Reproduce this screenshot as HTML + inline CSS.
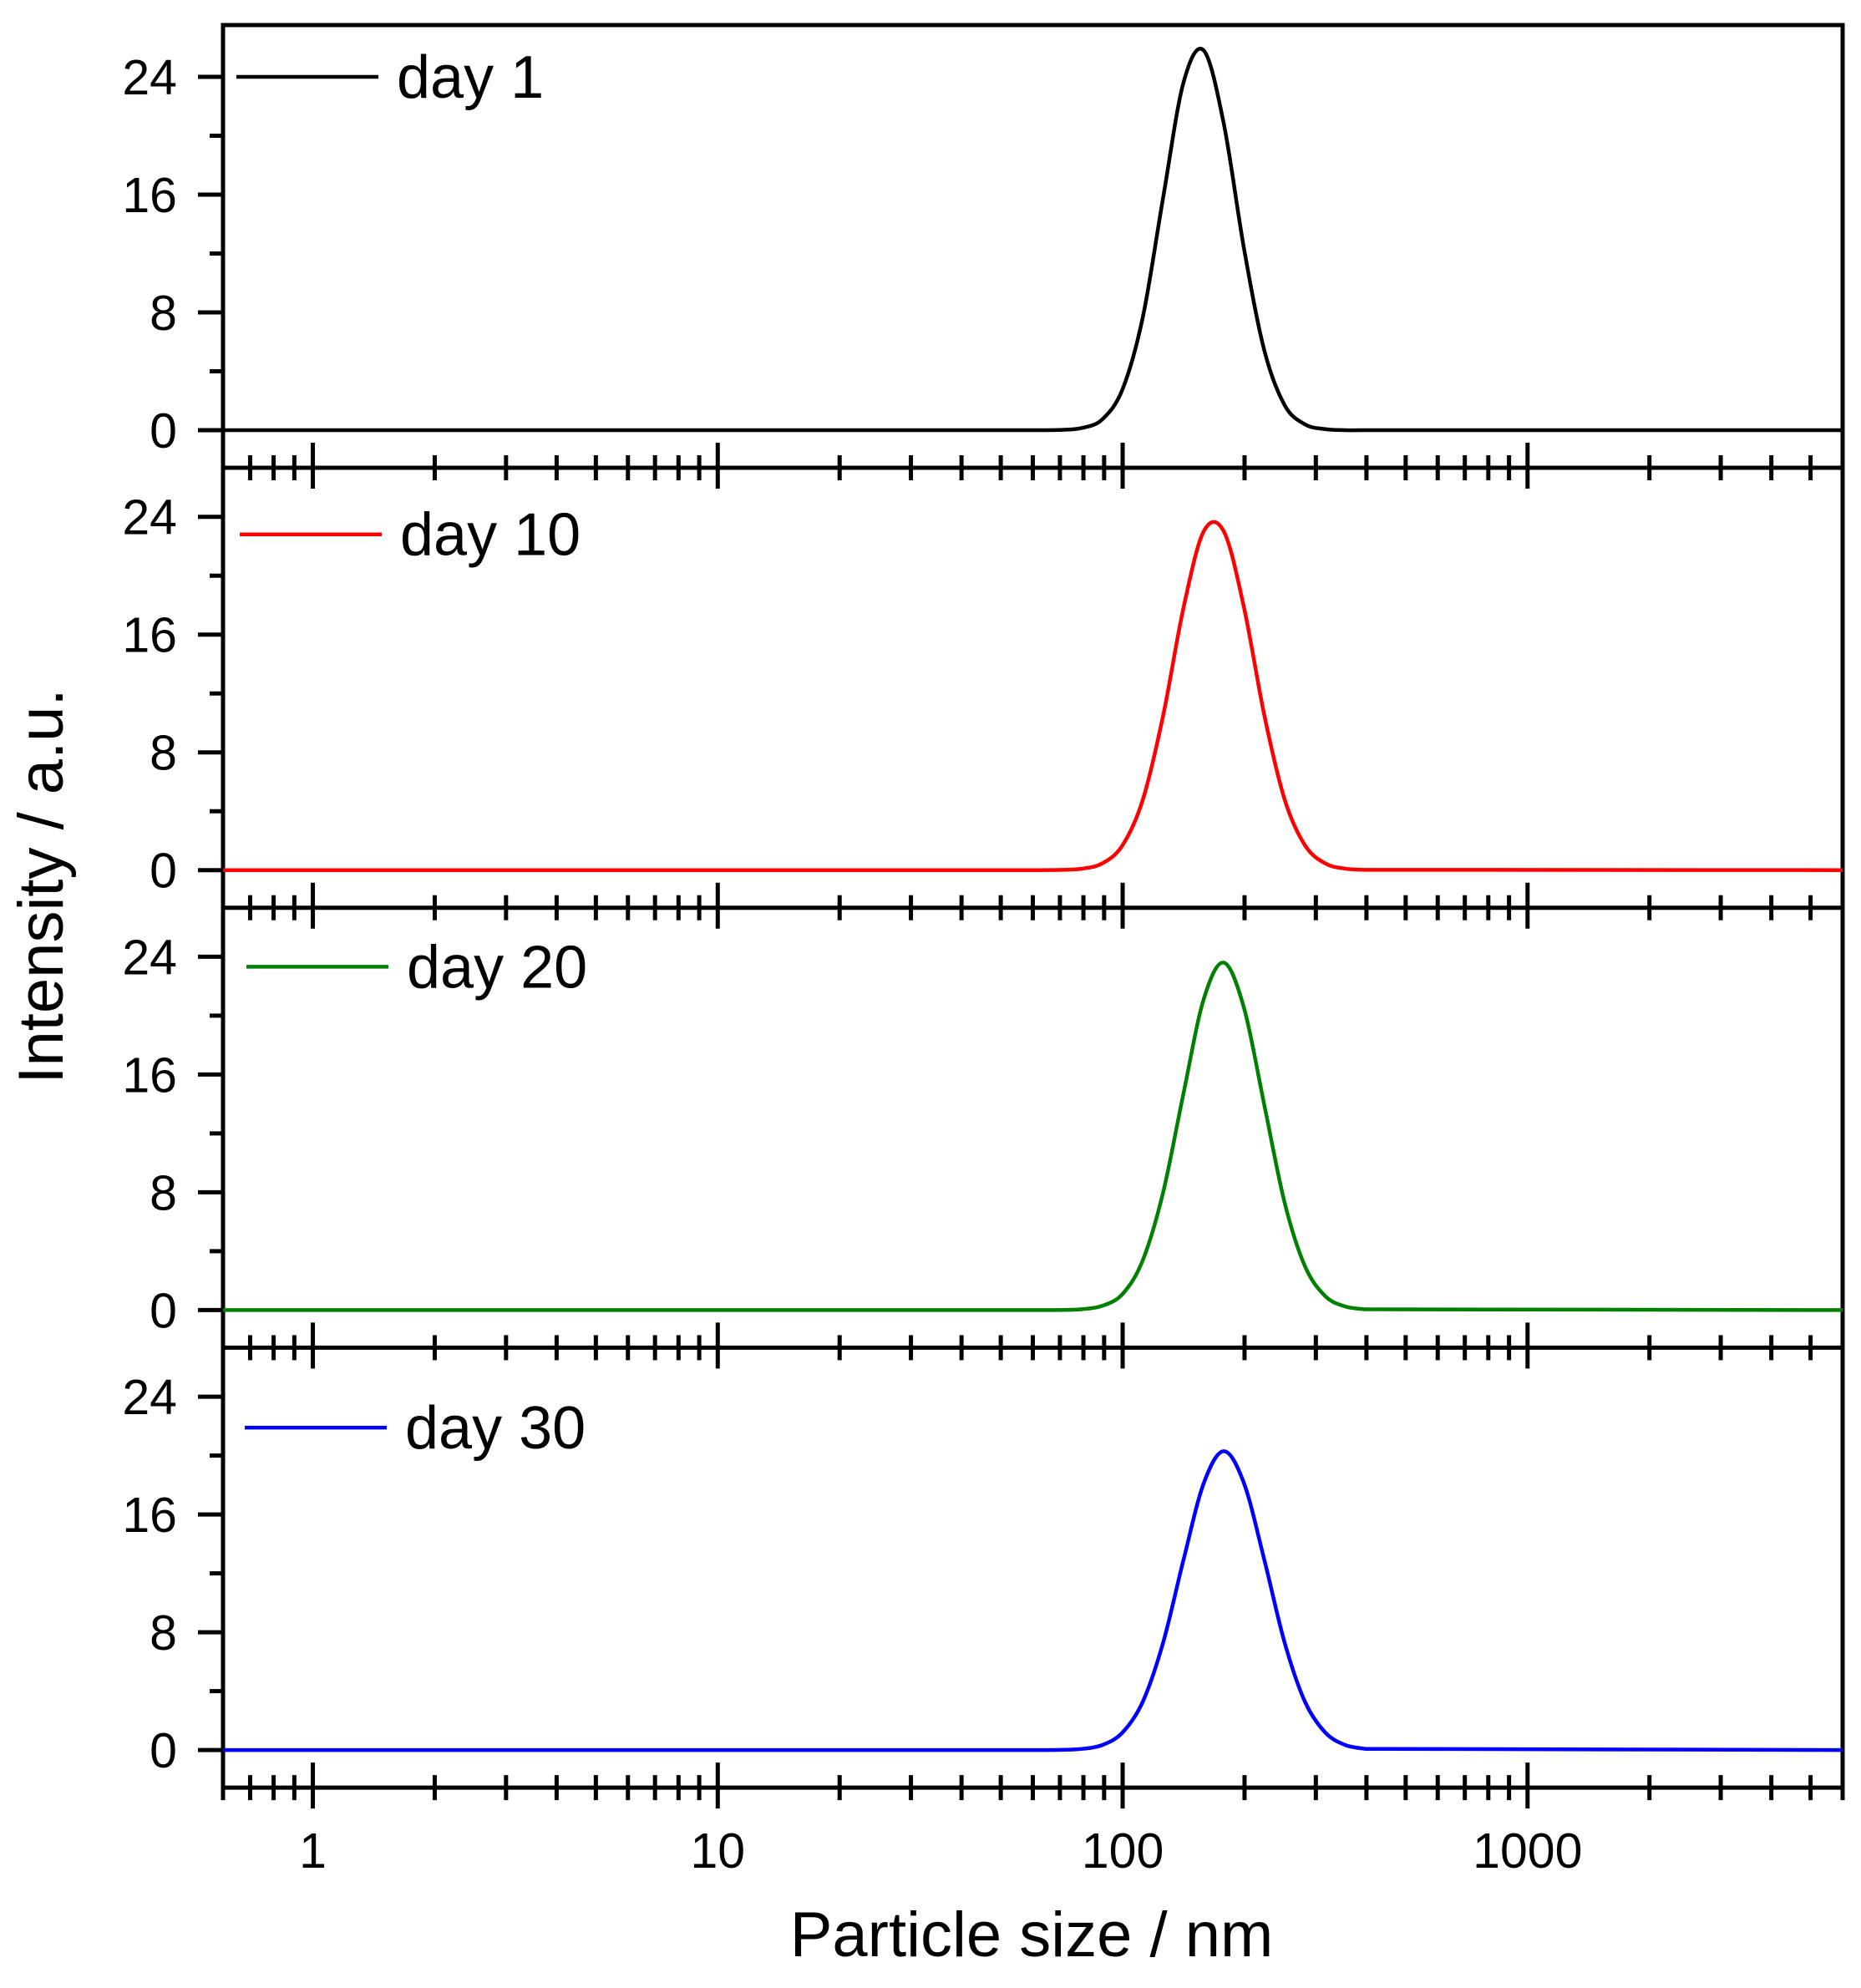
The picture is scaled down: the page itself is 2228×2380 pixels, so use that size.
<!DOCTYPE html>
<html><head><meta charset="utf-8"><style>
body{margin:0;background:#fff}
svg{display:block}
text{font-family:"Liberation Sans",Arial,sans-serif;fill:#000}
</style></head><body>
<svg id="chart" width="2228" height="2380" viewBox="0 0 2228 2380" xmlns="http://www.w3.org/2000/svg">
<g id="axes"></g>
<g id="series"></g>
<text x="1235" y="2342" font-size="76" text-anchor="middle">Particle size / nm</text>
<text transform="translate(75,1061) rotate(-90)" font-size="76" text-anchor="middle">Intensity / a.u.</text>
</svg>
<script>
const sizes = [0.6,63.1,70.8,79.4,89.1,100,112.2,125.9,141.3,158.5,177.8,199.5,223.9,251.2,281.8,316.2,354.8,398.1,6000];
const day1  = [0,0,0.02,0.15,0.74,2.8,7.7,15.8,23.6,25.8,20.8,12.3,5.4,1.7,0.4,0.07,0,0,0];
const day10 = [0,0,0.02,0.1,0.46,1.7,4.8,10.5,17.8,23.0,23.0,17.8,10.5,4.8,1.7,0.46,0.1,0.02,0];
const day20 = [0,0,0.01,0.06,0.29,1.1,3.4,8.0,14.7,21.1,23.6,20.5,13.9,7.3,3.0,0.96,0.24,0.05,0];
const day30 = [0,0,0.01,0.08,0.34,1.2,3.3,7.3,12.9,18.1,20.3,18.1,12.9,7.3,3.3,1.2,0.34,0.08,0];
const seriesNames = ["day 1","day 10","day 20","day 30"];
const yTicks = [0,8,16,24];
const yMinor = [4,12,20];
const xMajor = [1,10,100,1000];
const xMajorLabels = ["1","10","100","1000"];

const NS="http://www.w3.org/2000/svg";
const allSeries=[day1,day10,day20,day30];
const colors=["#000000","#ff0000","#008000","#0000ff"];
const X0=267, X1=2206, TOP=30, B0=560, PH=526.7;
const xMin=Math.log10(0.6), xMax=Math.log10(6000);
function xs(v){return X0+(Math.log10(v)-xMin)/(xMax-xMin)*(X1-X0);}
function bottom(i){return B0+PH*i;}
function ys(i,v){return bottom(i)-45-v*17.625;}
const axes=document.getElementById('axes');
const sg=document.getElementById('series');
function mk(tag,attrs,parent){const e=document.createElementNS(NS,tag);for(const k in attrs)e.setAttribute(k,attrs[k]);parent.appendChild(e);return e;}

let fr=mk('path',{d:`M${X0},${bottom(3)} V${TOP} H${X1} V${bottom(3)}`,fill:'none',stroke:'#000','stroke-width':5},axes);



const legendDy=[0,21,12,37];
const legendX=[283,287,295,293];
for(let i=0;i<4;i++){
  const B=bottom(i);
  const ax=mk('line',{x1:X0,x2:X1,y1:B,y2:B,stroke:'#000','stroke-width':5},axes);
  
  
  for(let d=-1;d<=3;d++){
    for(let m=1;m<=9;m++){
      const v=m*Math.pow(10,d);
      if(v<0.6||v>6000)continue;
      const x=xs(v);
      const major=(m===1);
      const t=mk('line',{x1:x,x2:x,y1:B-(major?30:15),y2:B+(major?25:15),stroke:'#000','stroke-width':5},axes);
      
      
    }
  }
  yTicks.forEach(v=>{
    const y=ys(i,v);
    const t=mk('line',{x1:X0-30,x2:X0,y1:y,y2:y,stroke:'#000','stroke-width':5},axes);
    
    
    const l=mk('text',{x:212,y:y+21,'font-size':59,'text-anchor':'end'},axes);
    l.textContent=String(v);
    
    
  });
  yMinor.forEach(v=>{
    const y=ys(i,v);
    const t=mk('line',{x1:X0-16,x2:X0,y1:y,y2:y,stroke:'#000','stroke-width':5},axes);
    
    
  });
  const data=allSeries[i];
  const pts=sizes.map((s,k)=>[xs(s),ys(i,data[k])]);
  const n=pts.length;
  let d=`M${pts[0][0]},${pts[0][1]} L${pts[1][0]},${pts[1][1]}`;
  for(let k=1;k<n-2;k++){
    const p1=pts[k],p2=pts[k+1];
    const p0=(k===1)?p1:pts[k-1];
    const p3=(k+2>=n-1)?p2:pts[k+2];
    const c1=[p1[0]+(p2[0]-p0[0])/6,p1[1]+(p2[1]-p0[1])/6];
    const c2=[p2[0]-(p3[0]-p1[0])/6,p2[1]-(p3[1]-p1[1])/6];
    d+=` C${c1[0]},${c1[1]} ${c2[0]},${c2[1]} ${p2[0]},${p2[1]}`;
  }
  d+=` L${pts[n-1][0]},${pts[n-1][1]}`;
  const path=mk('path',{d:d,fill:'none',stroke:colors[i],'stroke-width':4.5,'stroke-linejoin':'round'},sg);
  
  
  const ly=ys(i,24)+legendDy[i];
  const ll=mk('line',{x1:legendX[i],x2:legendX[i]+170,y1:ly,y2:ly,stroke:colors[i],'stroke-width':4.5},axes);
  
  
  const lt=mk('text',{x:legendX[i]+192,y:ly+25,'font-size':72},axes);
  lt.textContent=seriesNames[i];
  
  
}
xMajor.forEach((v,k)=>{
  const l=mk('text',{x:xs(v),y:2236,'font-size':59,'text-anchor':'middle'},axes);
  l.textContent=xMajorLabels[k];
  
  
});
</script>
</body></html>
